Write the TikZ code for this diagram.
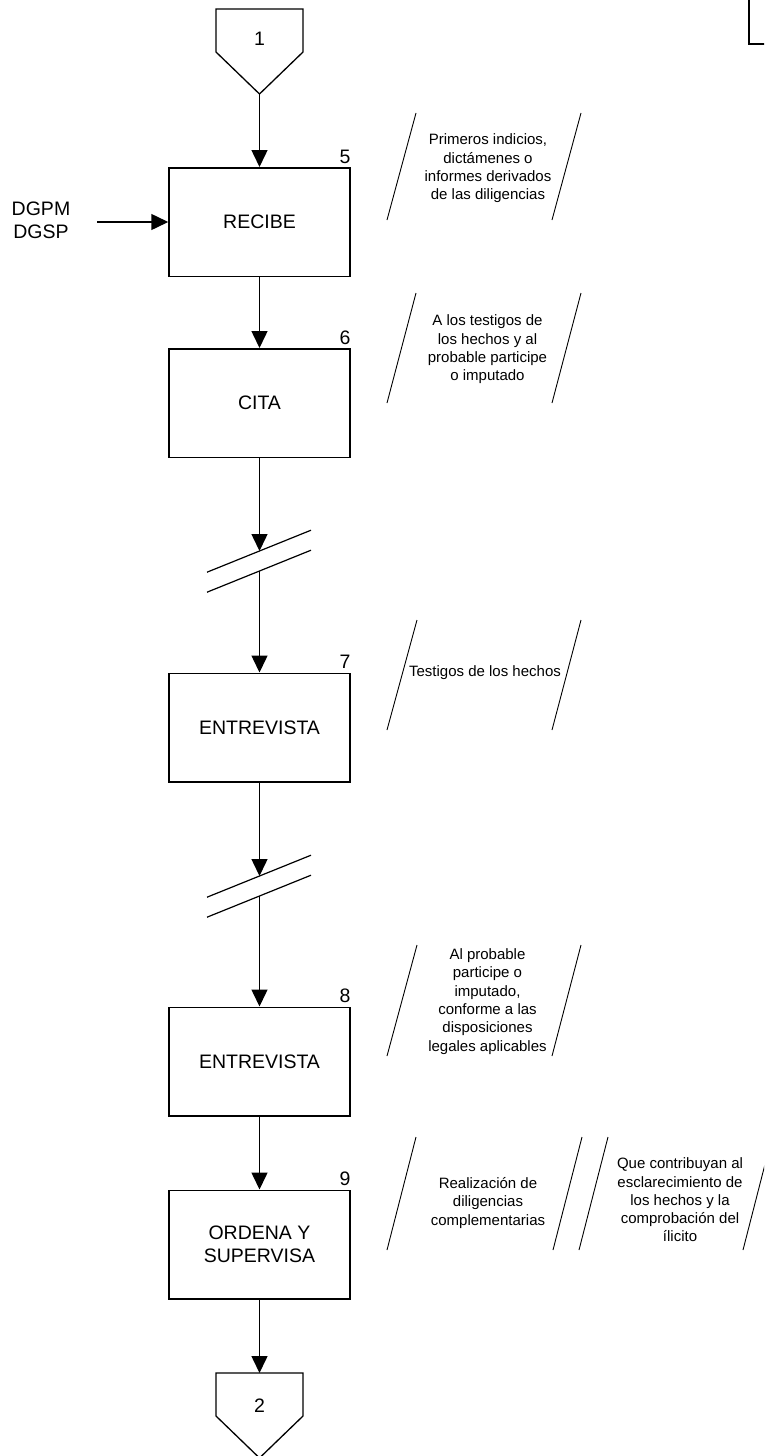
\documentclass[tikz,border=0pt]{standalone}
\usepackage{fontspec}
\setmainfont{Liberation Sans}
\usetikzlibrary{arrows.meta}
\begin{document}
\begin{tikzpicture}[x=1pt,y=-1pt,
  proc/.style={draw, line width=1.5pt, minimum width=181pt, minimum height=108.5pt, inner sep=0pt, font=\fontsize{19.5}{23.5}\selectfont, align=center},
  num/.style={anchor=south east, inner sep=0pt, font=\fontsize{19.5}{23}\selectfont},
  note/.style={align=center, inner sep=0pt, font=\fontsize{15}{18.3}\selectfont},
  flow/.style={line width=1.5pt, -{Triangle[length=17pt,width=16pt]}},
  plain/.style={line width=1.3pt},
  annline/.style={line width=0.9pt},
  brk/.style={line width=1.2pt}
]
\useasboundingbox (0,0) rectangle (764,1456);
\begin{scope}
\clip (0,0) rectangle (764,1456);

% top-right fragment
\draw[line width=2.3pt] (749,-2) -- (749,44) -- (770,44);

% off-page connector 1
\draw[plain] (216,9) -- (303,9) -- (303,52) -- (259.5,94) -- (216,52) -- cycle;
\node[font=\fontsize{19.5}{23}\selectfont] (c1) at (259.5,38.5) {1};
\coordinate (c1tip) at (259.5,94);

% boxes
\node[proc] (b5) at (259.5,222) {RECIBE};
\node[proc] (b6) at (259.5,403) {CITA};
\node[proc] (b7) at (259.5,727.5) {ENTREVISTA};
\node[proc] (b8) at (259.5,1061.5) {ENTREVISTA};
\node[proc] (b9) at (259.5,1244.5) {ORDENA Y\\SUPERVISA};

\node[num] (n5) at ([yshift=3.5pt]b5.north east) {5};
\node[num] (n6) at ([yshift=3.5pt]b6.north east) {6};
\node[num] (n7) at ([yshift=3.5pt]b7.north east) {7};
\node[num] (n8) at ([yshift=3.5pt]b8.north east) {8};
\node[num] (n9) at ([yshift=3.5pt]b9.north east) {9};

% input
\node[align=center, inner sep=0pt, font=\fontsize{19.5}{23}\selectfont] (dg) at (41,220.5) {DGPM\\DGSP};
\coordinate (dgstart) at (97,222);
\draw[flow] (dgstart) -- (b5.west);

% break marks
\coordinate (k1a) at (259.5,551);
\coordinate (k1b) at (259.5,571);
\draw[brk] (207,572.2) -- (311,530.2);
\draw[brk] (207,592.2) -- (311,550.2);
\coordinate (k2a) at (259.5,876);
\coordinate (k2b) at (259.5,896);
\draw[brk] (207,897.2) -- (311,855.2);
\draw[brk] (207,917.2) -- (311,875.2);

% off-page connector 2
\draw[plain] (216,1373) -- (303,1373) -- (303,1416) -- (259.5,1458) -- (216,1416) -- cycle;
\node[font=\fontsize{19.5}{23}\selectfont] (c2) at (259.5,1406) {2};
\coordinate (c2top) at (259.5,1373);

% flow connectors
\draw[flow] (c1tip) -- (b5.north);
\draw[flow] (b5.south) -- (b6.north);
\draw[flow] (b6.south) -- (k1a);
\draw[flow] (k1b) -- (b7.north);
\draw[flow] (b7.south) -- (k2a);
\draw[flow] (k2b) -- (b8.north);
\draw[flow] (b8.south) -- (b9.north);
\draw[flow] (b9.south) -- (c2top);

% annotations
\draw[annline] (416,113) -- (387,220);
\draw[annline] (581,113) -- (552,220);
\node[note] (a5) at (488,168.5) {Primeros indicios,\\dictámenes o\\informes derivados\\de las diligencias};

\draw[annline] (416,293) -- (387,403);
\draw[annline] (581,293) -- (552,403);
\node[note] (a6) at (487.5,349.5) {A los testigos de\\los hechos y al\\probable participe\\o imputado};

\draw[annline] (417,620) -- (387,730);
\draw[annline] (581,620) -- (552,730);
\node[note] (a7) at (485,673) {Testigos de los hechos};

\draw[annline] (417,945) -- (387,1056);
\draw[annline] (581,945) -- (552,1056);
\node[note] (a8) at (487.5,1001.5) {Al probable\\participe o\\imputado,\\conforme a las\\disposiciones\\legales aplicables};

\draw[annline] (416,1137) -- (387,1250);
\draw[annline] (582,1137) -- (553,1250);
\node[note] (a9) at (488,1203) {Realización de\\diligencias\\complementarias};

\draw[annline] (608,1137) -- (579,1250);
\draw[annline] (772,1137) -- (743,1250);
\node[note] (a9b) at (680,1200) {Que contribuyan al\\esclarecimiento de\\los hechos y la\\comprobación del\\ílicito};
\end{scope}
\end{tikzpicture}
\end{document}
